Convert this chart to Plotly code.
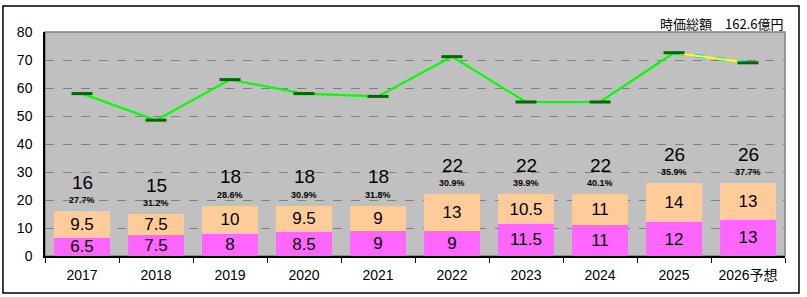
import plotly.graph_objects as go

categories = ["2017", "2018", "2019", "2020", "2021", "2022", "2023", "2024", "2025", "2026予想"]
lower_vals = [6.5, 7.5, 8, 8.5, 9, 9, 11.5, 11, 12, 13]
upper_vals = [9.5, 7.5, 10, 9.5, 9, 13, 10.5, 11, 14, 13]
totals = [16, 15, 18, 18, 18, 22, 22, 22, 26, 26]
pct_labels = ["27.7%", "31.2%", "28.6%", "30.9%", "31.8%", "30.9%", "39.9%", "40.1%", "35.9%", "37.7%"]
line_vals = [58, 48.5, 63, 58, 57, 71.2, 55, 55, 72.6, 69]
lower_text = ["6.5", "7.5", "8", "8.5", "9", "9", "11.5", "11", "12", "13"]
upper_text = ["9.5", "7.5", "10", "9.5", "9", "13", "10.5", "11", "14", "13"]
title_text = "時価総額　162.6億円"

FONT = "Noto Sans CJK JP, Liberation Sans, sans-serif"
NUMFONT = "Liberation Sans, Noto Sans CJK JP, sans-serif"

fig = go.Figure()
fig.add_trace(go.Bar(x=categories, y=lower_vals, marker=dict(color="#FF66FF", line=dict(width=0)),
                     text=lower_text, textposition="inside", insidetextanchor="middle",
                     constraintext="none",
                     textfont=dict(size=17, color="black", family=NUMFONT), textangle=0))
fig.add_trace(go.Bar(x=categories, y=upper_vals, marker=dict(color="#FFCC99", line=dict(width=0)),
                     text=upper_text, textposition="inside", insidetextanchor="middle",
                     constraintext="none",
                     textfont=dict(size=17, color="black", family=NUMFONT), textangle=0))

# green line (all but last segment)
fig.add_trace(go.Scatter(x=categories[:-1], y=line_vals[:-1], mode="lines",
                         line=dict(color="#00FF00", width=2.2)))
# forecast segment
fig.add_trace(go.Scatter(x=categories[-2:], y=line_vals[-2:], mode="lines",
                         line=dict(color="#00CCFF", width=3.5, dash="dash")))
fig.add_trace(go.Scatter(x=categories[-2:], y=line_vals[-2:], mode="lines",
                         line=dict(color="#FFFF00", width=2)))
# markers
fig.add_trace(go.Scatter(x=categories, y=line_vals, mode="markers",
                         marker=dict(symbol="line-ew", size=15, line=dict(color="#006600", width=3))))

for i, (t, p) in enumerate(zip(totals, pct_labels)):
    fig.add_annotation(x=i, y=t, text=str(t), showarrow=False, yshift=29,
                       font=dict(size=19, color="black", family=NUMFONT))
    fig.add_annotation(x=i, y=t, text="<b>" + p + "</b>", showarrow=False, yshift=11,
                       font=dict(size=9, color="black", family=NUMFONT))

fig.add_annotation(xref="paper", yref="paper", x=1.0, y=1.0, xanchor="right", yanchor="bottom",
                   text=title_text, showarrow=False, yshift=-3,
                   font=dict(size=13, color="black", family=FONT))

fig.add_shape(type="rect", xref="paper", yref="paper", x0=-0.0568, x1=1.0189, y0=-0.165, y1=1.116,
              line=dict(color="black", width=1.5), fillcolor="rgba(0,0,0,0)", layer="below")
fig.add_shape(type="rect", xref="paper", yref="paper", x0=0, x1=1, y0=0, y1=1,
              line=dict(color="#808080", width=1.5), fillcolor="rgba(0,0,0,0)", layer="below")

fig.update_layout(
    width=807, height=297,
    margin=dict(l=45, r=22, t=32, b=41),
    barmode="stack", bargap=0.23,
    plot_bgcolor="#C0C0C0", paper_bgcolor="white",
    showlegend=False,
    font=dict(family=FONT, color="black"),
)
fig.update_xaxes(type="category", range=[-0.5, 9.5], showgrid=False, showline=True, linecolor="black",
                 linewidth=1.5, ticks="outside", tickson="boundaries", ticklen=5, tickcolor="black",
                 tickfont=dict(size=14, family=NUMFONT), ticklabelstandoff=5, zeroline=False)
fig.update_yaxes(range=[0, 80], dtick=10, showgrid=True, gridcolor="#808080", griddash="dash", gridwidth=1,
                 showline=True, linecolor="black", linewidth=1.5, ticks="", zeroline=False,
                 tickfont=dict(size=14, family=NUMFONT), ticklabelstandoff=8)

fig.write_html("out.html")
